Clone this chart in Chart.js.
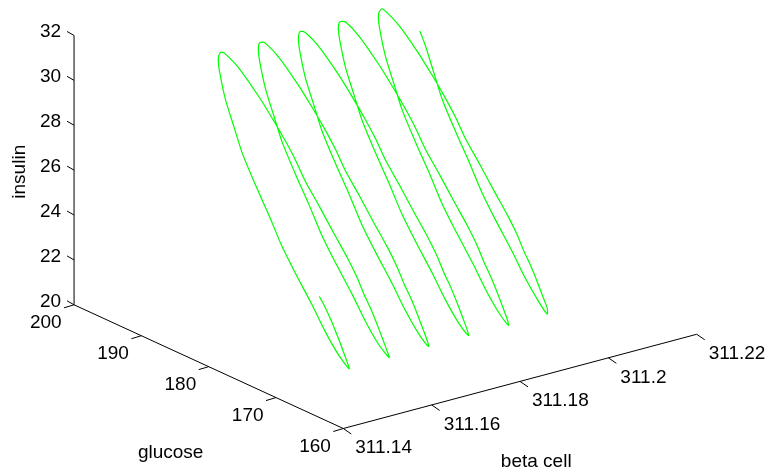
<!DOCTYPE html>
<html>
<head>
<meta charset="utf-8">
<script src="https://cdn.jsdelivr.net/npm/chart.js@4/dist/chart.umd.min.js"></script>
<style>
  html, body { margin: 0; padding: 0; background: #fff; }
  #c { display: block; }
</style>
</head>
<body>
<canvas id="c" width="771" height="475"></canvas>
<script>
// Trajectory of the beta cell / glucose / insulin model (one row per half-oscillation)
const betaCell = [
  311.15293, 311.15305, 311.15328, 311.15354, 311.15376, 311.15390,
  311.15400, 311.15420, 311.15453, 311.15492, 311.15537, 311.15575, 311.15620, 311.15663, 311.15709, 311.15747, 311.15785, 311.15825, 311.15842, 311.15850, 311.15853,
  311.15856, 311.15877, 311.15919, 311.15951, 311.15983, 311.16012, 311.16045, 311.16082, 311.16121, 311.16156, 311.16186, 311.16211, 311.16234, 311.16260, 311.16282, 311.16296,
  311.16306, 311.16326, 311.16359, 311.16398, 311.16443, 311.16481, 311.16526, 311.16569, 311.16615, 311.16653, 311.16691, 311.16731, 311.16748, 311.16756, 311.16759,
  311.16762, 311.16783, 311.16825, 311.16857, 311.16889, 311.16918, 311.16951, 311.16988, 311.17027, 311.17062, 311.17092, 311.17117, 311.17140, 311.17166, 311.17188, 311.17202,
  311.17212, 311.17232, 311.17265, 311.17304, 311.17349, 311.17387, 311.17432, 311.17475, 311.17521, 311.17559, 311.17597, 311.17637, 311.17654, 311.17662, 311.17665,
  311.17668, 311.17689, 311.17731, 311.17763, 311.17795, 311.17824, 311.17857, 311.17894, 311.17933, 311.17968, 311.17998, 311.18023, 311.18046, 311.18072, 311.18094, 311.18108,
  311.18118, 311.18138, 311.18171, 311.18210, 311.18255, 311.18293, 311.18338, 311.18381, 311.18427, 311.18465, 311.18503, 311.18543, 311.18560, 311.18568, 311.18571,
  311.18574, 311.18595, 311.18637, 311.18669, 311.18701, 311.18730, 311.18763, 311.18800, 311.18839, 311.18874, 311.18904, 311.18929, 311.18952, 311.18978, 311.19000, 311.19014,
  311.19024, 311.19044, 311.19077, 311.19116, 311.19161, 311.19199, 311.19244, 311.19287, 311.19333, 311.19371, 311.19409, 311.19449, 311.19466, 311.19474, 311.19477,
  311.19480, 311.19501, 311.19543, 311.19575, 311.19607, 311.19636, 311.19669, 311.19706, 311.19745, 311.19780, 311.19810, 311.19835, 311.19858, 311.19884, 311.19906, 311.19920,
  311.19930, 311.19950, 311.19983, 311.20022, 311.20067, 311.20105, 311.20150, 311.20193, 311.20239, 311.20277, 311.20315, 311.20337
];

const glucose = [
  172.06, 171.47, 170.52, 169.65, 168.98, 168.55,
  168.32, 170.03, 172.22, 174.44, 177.21, 179.43, 181.71, 183.97, 186.23, 187.73, 189.21, 190.36, 190.66, 190.59, 190.24,
  189.67, 187.84, 185.15, 183.37, 181.72, 180.32, 179.05, 177.22, 175.33, 173.63, 172.35, 171.47, 170.52, 169.65, 168.98, 168.55,
  168.32, 170.03, 172.22, 174.44, 177.21, 179.43, 181.71, 183.97, 186.23, 187.73, 189.21, 190.36, 190.66, 190.59, 190.24,
  189.67, 187.84, 185.15, 183.37, 181.72, 180.32, 179.05, 177.22, 175.33, 173.63, 172.35, 171.47, 170.52, 169.65, 168.98, 168.55,
  168.42, 170.03, 172.22, 174.44, 177.21, 179.43, 181.71, 183.97, 186.23, 187.73, 189.21, 190.36, 190.66, 190.59, 190.39,
  189.67, 187.84, 185.15, 183.37, 181.72, 180.32, 179.05, 177.22, 175.33, 173.63, 172.35, 171.47, 170.52, 169.65, 168.98, 168.55,
  168.44, 170.03, 172.22, 174.44, 177.21, 179.43, 181.71, 183.97, 186.23, 187.73, 189.21, 190.36, 190.66, 190.59, 190.26,
  189.67, 187.84, 185.15, 183.37, 181.72, 180.32, 179.05, 177.22, 175.33, 173.63, 172.35, 171.47, 170.52, 169.65, 168.98, 168.55,
  168.44, 170.03, 172.22, 174.44, 177.21, 179.43, 181.71, 183.97, 186.23, 187.73, 189.21, 190.36, 190.66, 190.59, 190.18,
  189.67, 187.84, 185.15, 183.37, 181.72, 180.32, 179.05, 177.22, 175.33, 173.63, 172.35, 171.47, 170.52, 169.65, 168.98, 168.55,
  168.63, 170.03, 172.22, 174.44, 177.21, 179.43, 181.71, 183.97, 186.23, 187.73, 189.21, 190.21
];

const insulin = [
  23.54, 23.26, 22.67, 22.00, 21.43, 21.06,
  20.78, 21.15, 21.87, 22.74, 23.74, 24.60, 25.68, 26.68, 27.76, 28.72, 29.68, 30.76, 31.23, 31.48, 31.63,
  31.62, 31.24, 30.32, 29.58, 28.83, 28.11, 27.31, 26.43, 25.47, 24.64, 23.91, 23.26, 22.67, 22.00, 21.43, 21.06,
  20.80, 21.15, 21.87, 22.74, 23.74, 24.60, 25.68, 26.68, 27.76, 28.72, 29.68, 30.76, 31.23, 31.48, 31.60,
  31.62, 31.24, 30.32, 29.58, 28.83, 28.11, 27.31, 26.43, 25.47, 24.64, 23.91, 23.26, 22.67, 22.00, 21.43, 21.06,
  20.81, 21.15, 21.87, 22.74, 23.74, 24.60, 25.68, 26.68, 27.76, 28.72, 29.68, 30.76, 31.23, 31.48, 31.58,
  31.62, 31.24, 30.32, 29.58, 28.83, 28.11, 27.31, 26.43, 25.47, 24.64, 23.91, 23.26, 22.67, 22.00, 21.43, 21.06,
  20.82, 21.15, 21.87, 22.74, 23.74, 24.60, 25.68, 26.68, 27.76, 28.72, 29.68, 30.76, 31.23, 31.48, 31.57,
  31.62, 31.24, 30.32, 29.58, 28.83, 28.11, 27.31, 26.43, 25.47, 24.64, 23.91, 23.26, 22.67, 22.00, 21.43, 21.06,
  20.80, 21.15, 21.87, 22.74, 23.74, 24.60, 25.68, 26.68, 27.76, 28.72, 29.68, 30.76, 31.23, 31.48, 31.66,
  31.62, 31.24, 30.32, 29.58, 28.83, 28.11, 27.31, 26.43, 25.47, 24.64, 23.91, 23.26, 22.67, 22.00, 21.43, 21.06,
  20.80, 21.15, 21.87, 22.74, 23.74, 24.60, 25.68, 26.68, 27.76, 28.72, 29.68, 30.22
];

// Axis limits and ticks
const betaLim = [311.14, 311.22];
const glucoseLim = [160, 200];
const insulinLim = [20, 32];
const betaTicks = [311.14, 311.16, 311.18, 311.2, 311.22];
const betaTickLabels = ['311.14', '311.16', '311.18', '311.2', '311.22'];
const glucoseTicks = [160, 170, 180, 190, 200];
const insulinTicks = [20, 22, 24, 26, 28, 30, 32];
const axisTitles = { beta: 'beta cell', glucose: 'glucose', insulin: 'insulin' };

// 3-D view: azimuth / elevation, and how the projected unit box sits on the canvas
const VIEW = { az: -37.3 * Math.PI / 180, el: 30 * Math.PI / 180 };
const BOX = { originX: 343.3, originY: 428.5, scaleX: 444.3, scaleY: 311 };
const W = 771, H = 475;
const FONT = '19px "Liberation Sans", Arial, Helvetica, sans-serif';

function norm(v, lim) { return (v - lim[0]) / (lim[1] - lim[0]); }

// Orthographic projection of (beta, glucose, insulin) into the chart's 2-D value space
function project(b, g, z) {
  const x = norm(b, betaLim), y = norm(g, glucoseLim), h = norm(z, insulinLim);
  const ca = Math.cos(VIEW.az), sa = Math.sin(VIEW.az), se = Math.sin(VIEW.el), ce = Math.cos(VIEW.el);
  return {
    x: ca * x + sa * y,
    y: -se * sa * x + se * ca * y + ce * h
  };
}

const trajectory = betaCell.map((b, i) => project(b, glucose[i], insulin[i]));

const frame3d = {
  id: 'frame3d',
  beforeDatasetsDraw(chart) {
    const ctx = chart.ctx;
    const sx = chart.scales.x, sy = chart.scales.y;
    const px = (b, g, z) => {
      const p = project(b, g, z);
      return [sx.getPixelForValue(p.x), sy.getPixelForValue(p.y)];
    };
    const seg = (a, c, color) => {
      ctx.strokeStyle = color;
      ctx.beginPath(); ctx.moveTo(a[0], a[1]); ctx.lineTo(c[0], c[1]); ctx.stroke();
    };
    const [b0, b1] = betaLim, [g0, g1] = glucoseLim, [z0, z1] = insulinLim;

    ctx.save();
    ctx.lineWidth = 1;
    ctx.lineCap = 'butt';

    // axis lines
    seg(px(b0, g1, z0), px(b0, g1, z1), '#000');
    seg(px(b0, g0, z0), px(b0, g1, z0), '#000');
    seg(px(b0, g0, z0), px(b1, g0, z0), '#000');

    // tick marks
    insulinTicks.forEach(v => { const p = px(b0, g1, v); seg(p, [p[0] - 7, p[1] - 4], '#000'); });
    glucoseTicks.forEach(v => { const p = px(b0, v, z0); seg(p, [p[0] - 10, p[1] + 3], '#000'); });
    betaTicks.forEach(v => { const p = px(v, g0, z0); seg(p, [p[0] + 8, p[1] + 5.5], '#000'); });

    // tick labels
    ctx.fillStyle = '#000';
    ctx.font = FONT;
    ctx.textBaseline = 'alphabetic';
    ctx.textAlign = 'right';
    insulinTicks.forEach(v => { const p = px(b0, g1, v); ctx.fillText(String(v), p[0] - 13, p[1] + 2); });
    ctx.textAlign = 'center';
    glucoseTicks.forEach(v => { const p = px(b0, v, z0); ctx.fillText(String(v), p[0] - 28.3, p[1] + 23.2); });
    ctx.textAlign = 'left';
    betaTicks.forEach((v, i) => { const p = px(v, g0, z0); ctx.fillText(betaTickLabels[i], p[0] + 12, p[1] + 24.7); });

    // axis titles
    ctx.textAlign = 'center';
    const gm = px(b0, (g0 + g1) / 2, z0);
    ctx.fillText(axisTitles.glucose, gm[0] - 38, gm[1] + 91.6);
    const bm = px((b0 + b1) / 2, g0, z0);
    ctx.fillText(axisTitles.beta, bm[0] + 16.2, bm[1] + 85.3);
    const zm = px(b0, g1, (z0 + z1) / 2);
    ctx.save();
    ctx.translate(zm[0] - 49, zm[1] + 1.6);
    ctx.rotate(-Math.PI / 2);
    ctx.fillText(axisTitles.insulin, 0, 0);
    ctx.restore();

    ctx.restore();
  }
};

new Chart(document.getElementById('c'), {
  type: 'scatter',
  data: {
    datasets: [{
      data: trajectory,
      showLine: true,
      borderColor: '#00ff00',
      borderWidth: 1.2,
      pointRadius: 0,
      pointHoverRadius: 0,
      tension: 0.25,
      fill: false
    }]
  },
  options: {
    responsive: false,
    animation: false,
    events: [],
    layout: { padding: 0 },
    plugins: { legend: { display: false }, tooltip: { enabled: false } },
    scales: {
      x: { type: 'linear', display: false, min: -BOX.originX / BOX.scaleX, max: (W - BOX.originX) / BOX.scaleX },
      y: { type: 'linear', display: false, min: -(H - BOX.originY) / BOX.scaleY, max: BOX.originY / BOX.scaleY }
    }
  },
  plugins: [frame3d]
});
</script>
</body>
</html>
